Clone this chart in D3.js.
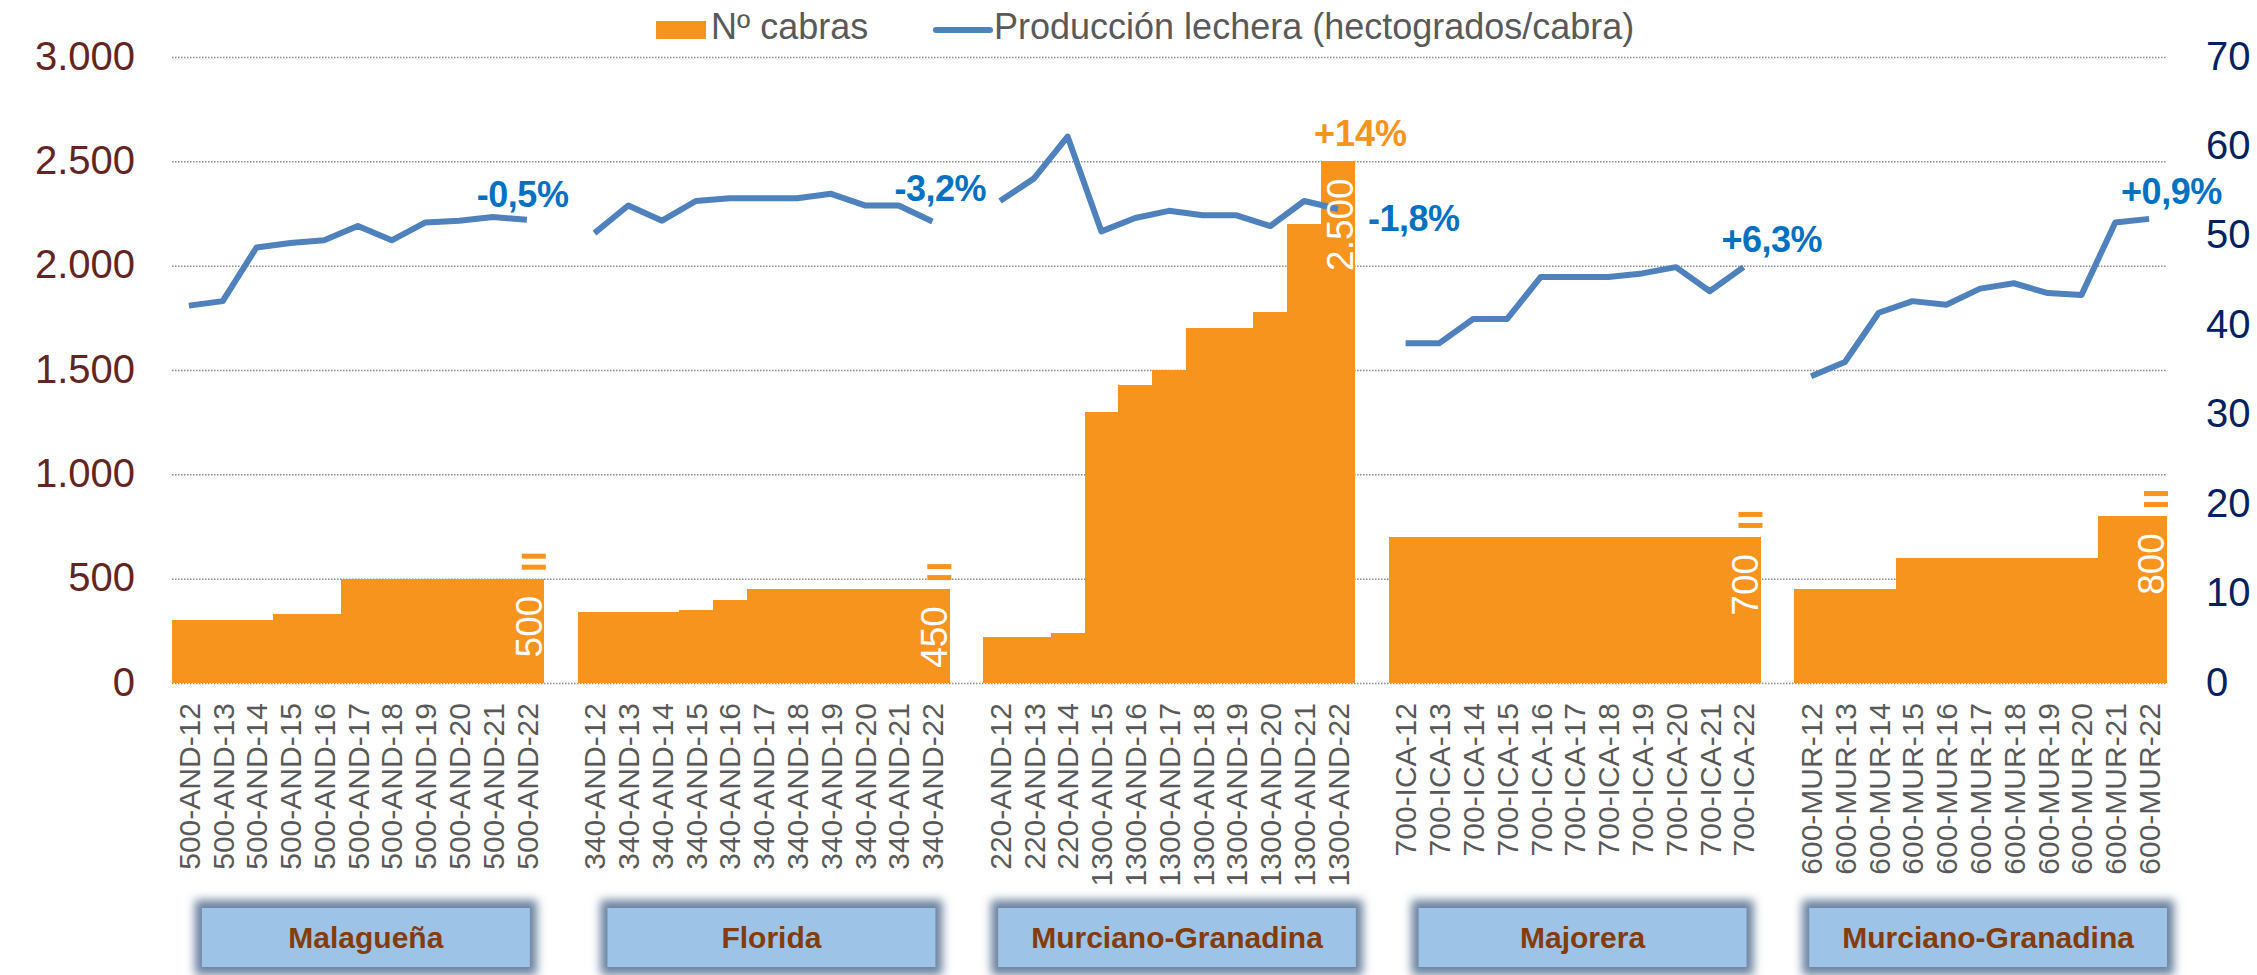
<html>
<head>
<meta charset="utf-8">
<title>Nº cabras y producción lechera</title>
<style>
  body { margin: 0; background: #fff; }
  svg { font-family: "Liberation Sans", Arial, sans-serif; }
  .grid line { stroke: #8c8c8c; stroke-width: 1.5; stroke-dasharray: 1.5 1.5; }
  .grid path { display: none; }
</style>
</head>
<body>
<script src="https://cdn.jsdelivr.net/npm/d3@7"></script>
<script>
// razas (grupos del eje x)
const grupos = ["Malagueña", "Florida", "Murciano-Granadina", "Majorera", "Murciano-Granadina"];

const categorias = [
  ["500-AND-12", "500-AND-13", "500-AND-14", "500-AND-15", "500-AND-16", "500-AND-17", "500-AND-18", "500-AND-19", "500-AND-20", "500-AND-21", "500-AND-22"],
  ["340-AND-12", "340-AND-13", "340-AND-14", "340-AND-15", "340-AND-16", "340-AND-17", "340-AND-18", "340-AND-19", "340-AND-20", "340-AND-21", "340-AND-22"],
  ["220-AND-12", "220-AND-13", "220-AND-14", "1300-AND-15", "1300-AND-16", "1300-AND-17", "1300-AND-18", "1300-AND-19", "1300-AND-20", "1300-AND-21", "1300-AND-22"],
  ["700-ICA-12", "700-ICA-13", "700-ICA-14", "700-ICA-15", "700-ICA-16", "700-ICA-17", "700-ICA-18", "700-ICA-19", "700-ICA-20", "700-ICA-21", "700-ICA-22"],
  ["600-MUR-12", "600-MUR-13", "600-MUR-14", "600-MUR-15", "600-MUR-16", "600-MUR-17", "600-MUR-18", "600-MUR-19", "600-MUR-20", "600-MUR-21", "600-MUR-22"]
];

// Nº cabras
const cabras = [
  [300, 300, 300, 330, 330, 500, 500, 500, 500, 500, 500],
  [340, 340, 340, 350, 400, 450, 450, 450, 450, 450, 450],
  [220, 220, 240, 1300, 1430, 1500, 1700, 1700, 1780, 2200, 2500],
  [700, 700, 700, 700, 700, 700, 700, 700, 700, 700, 700],
  [450, 450, 450, 600, 600, 600, 600, 600, 600, 800, 800]
];

// Producción lechera (hectogrados/cabra)
const produccion = [
  [42.2, 42.7, 48.7, 49.2, 49.5, 51.1, 49.5, 51.5, 51.7, 52.1, 51.8],
  [50.3, 53.4, 51.7, 53.9, 54.2, 54.2, 54.2, 54.7, 53.4, 53.4, 51.6],
  [53.9, 56.4, 61.1, 50.5, 52.0, 52.8, 52.3, 52.3, 51.1, 53.9, 53.0],
  [38.0, 38.0, 40.7, 40.7, 45.4, 45.4, 45.4, 45.8, 46.5, 43.8, 46.5],
  [34.3, 35.9, 41.4, 42.7, 42.3, 44.1, 44.7, 43.6, 43.4, 51.5, 51.9]
];

const varLinea = ["-0,5%", "-3,2%", "-1,8%", "+6,3%", "+0,9%"];
const varCabras = ["=", "=", "+14%", "=", "="];

const ticksIzq = [0, 500, 1000, 1500, 2000, 2500, 3000];
const ticksDer = [0, 10, 20, 30, 40, 50, 60, 70];

var width = 2257, height = 975;
var naranja = "#F7941D", azul = "#4F81BD", azulTxt = "#0070C0";

var loc = d3.formatLocale({ decimal: ",", thousands: ".", grouping: [3], currency: ["", " €"] });
var fmt = loc.format(",d");

// filas planas, con un hueco vacío entre grupos
var filas = [], claves = [];
grupos.forEach((g, gi) => {
  categorias[gi].forEach((c, i) => {
    var k = gi + "|" + c;
    claves.push(k);
    filas.push({ key: k, grupo: gi, idx: i, cat: c, cabras: cabras[gi][i], prod: produccion[gi][i] });
  });
  if (gi < grupos.length - 1) claves.push("hueco" + gi);
});

var x = d3.scaleBand().domain(claves).range([172, 2166]).padding(0);
var yL = d3.scaleLinear().domain([0, 3000]).range([683, 57]);
var yR = d3.scaleLinear().domain([0, 70]).range([683, 57]);
var bw = x.bandwidth();

var svg = d3.select("body").append("svg")
  .attr("width", width)
  .attr("height", height);

var defs = svg.append("defs");
defs.append("filter").attr("id", "sombra")
  .attr("x", "-20%").attr("y", "-50%").attr("width", "140%").attr("height", "200%")
  .append("feGaussianBlur").attr("stdDeviation", 5);

// rejilla punteada
svg.append("g").attr("class", "grid")
  .attr("transform", "translate(172,0)")
  .call(d3.axisLeft(yL).tickValues(ticksIzq).tickSize(-(2166 - 172)).tickFormat(""));

// barras
svg.append("g")
  .attr("fill", naranja)
  .attr("shape-rendering", "crispEdges")
  .selectAll("rect")
  .data(filas)
  .join("rect")
  .attr("x", d => x(d.key))
  .attr("width", bw + 0.6)
  .attr("y", d => yL(d.cabras))
  .attr("height", d => yL(0) - yL(d.cabras));

// línea de producción, cortada entre grupos
var todas = claves.map(k => filas.find(f => f.key === k) || null);
var linea = d3.line()
  .defined(d => d !== null)
  .x(d => x(d.key) + bw / 2)
  .y(d => yR(d.prod));

svg.append("path")
  .datum(todas)
  .attr("fill", "none")
  .attr("stroke", azul)
  .attr("stroke-width", 6)
  .attr("stroke-linejoin", "round")
  .attr("d", linea);

// ejes
var ejeIzq = svg.append("g")
  .attr("transform", "translate(172,0)")
  .call(d3.axisLeft(yL).tickValues(ticksIzq).tickFormat(fmt).tickSize(0).tickPadding(37));
ejeIzq.select(".domain").remove();
ejeIzq.selectAll("text")
  .attr("font-family", "Liberation Sans, Arial, sans-serif")
  .attr("font-size", 40)
  .attr("dy", "0.3em")
  .attr("fill", "#632523");

var ejeDer = svg.append("g")
  .attr("transform", "translate(2166,0)")
  .call(d3.axisRight(yR).tickValues(ticksDer).tickSize(0).tickPadding(40));
ejeDer.select(".domain").remove();
ejeDer.selectAll("text")
  .attr("font-family", "Liberation Sans, Arial, sans-serif")
  .attr("font-size", 40)
  .attr("dy", "0.3em")
  .attr("fill", "#002060");

// etiquetas de categoría giradas
svg.append("g")
  .attr("font-size", 30)
  .attr("fill", "#595959")
  .selectAll("text")
  .data(filas)
  .join("text")
  .attr("transform", d => `translate(${x(d.key) + bw / 2},703) rotate(-90)`)
  .attr("dy", "0.36em")
  .attr("text-anchor", "end")
  .text(d => d.cat);

// valor de la última barra de cada grupo
var ultimas = filas.filter(d => d.idx === 10);
svg.append("g")
  .attr("font-size", 37)
  .attr("fill", "#fff")
  .selectAll("text")
  .data(ultimas)
  .join("text")
  .attr("transform", d => `translate(${x(d.key) + bw - 2},${yL(d.cabras) + 17}) rotate(-90)`)
  .attr("text-anchor", "end")
  .text(d => fmt(d.cabras));

// marcas "=" o variación de cabras
ultimas.forEach(d => {
  var gi = d.grupo;
  var xr = x(d.key) + bw, yt = yL(d.cabras);
  if (varCabras[gi] === "=") {
    svg.append("rect").attr("x", xr - 22).attr("y", yt - 25).attr("width", 24).attr("height", 5).attr("fill", naranja);
    svg.append("rect").attr("x", xr - 22).attr("y", yt - 14).attr("width", 24).attr("height", 5).attr("fill", naranja);
  } else {
    svg.append("text")
      .attr("x", xr - 41).attr("y", yt - 15)
      .attr("font-size", 36).attr("font-weight", "bold")
      .attr("fill", naranja)
      .text(varCabras[gi]);
  }
});

// variación de producción junto al último punto
var desp = [[-50, -13], [-38, -21], [30, 22], [-22, -15], [-28, -15]];
svg.append("g")
  .attr("font-size", 36)
  .attr("font-weight", "bold")
  .attr("fill", azulTxt)
  .selectAll("text")
  .data(ultimas)
  .join("text")
  .attr("x", d => x(d.key) + bw / 2 + desp[d.grupo][0])
  .attr("y", d => yR(d.prod) + desp[d.grupo][1])
  .attr("letter-spacing", -0.5)
  .text(d => varLinea[d.grupo]);

// cajas de raza
var cajas = svg.append("g");
grupos.forEach((g, gi) => {
  var k0 = gi + "|" + categorias[gi][0], k1 = gi + "|" + categorias[gi][10];
  var cx = (x(k0) + x(k1) + bw) / 2 + 8;
  var caja = cajas.append("g");
  var t = caja.append("text")
    .attr("x", cx).attr("y", 948)
    .attr("text-anchor", "middle")
    .attr("font-size", 30).attr("font-weight", "bold")
    .attr("fill", "#843C0C")
    .text(g);
  var w = Math.max(328, t.node().getComputedTextLength() + 66);
  caja.insert("rect", "text")
    .attr("x", cx - w / 2 - 7).attr("y", 900).attr("width", w + 14).attr("height", 75)
    .attr("fill", "#6A819F")
    .attr("filter", "url(#sombra)");
  caja.insert("rect", "text")
    .attr("x", cx - w / 2).attr("y", 908).attr("width", w).attr("height", 59)
    .attr("fill", "#9DC3E6");
});

// leyenda
var ley = svg.append("g").attr("font-size", 36).attr("fill", "#595959");
ley.append("rect").attr("x", 656).attr("y", 21).attr("width", 50).attr("height", 18).attr("fill", naranja);
ley.append("text").attr("x", 711).attr("y", 39).text("Nº cabras");
ley.append("line").attr("x1", 936).attr("x2", 990).attr("y1", 30).attr("y2", 30)
  .attr("stroke", azul).attr("stroke-width", 6).attr("stroke-linecap", "round");
ley.append("text").attr("x", 994).attr("y", 39).text("Producción lechera (hectogrados/cabra)");
</script>
</body>
</html>
